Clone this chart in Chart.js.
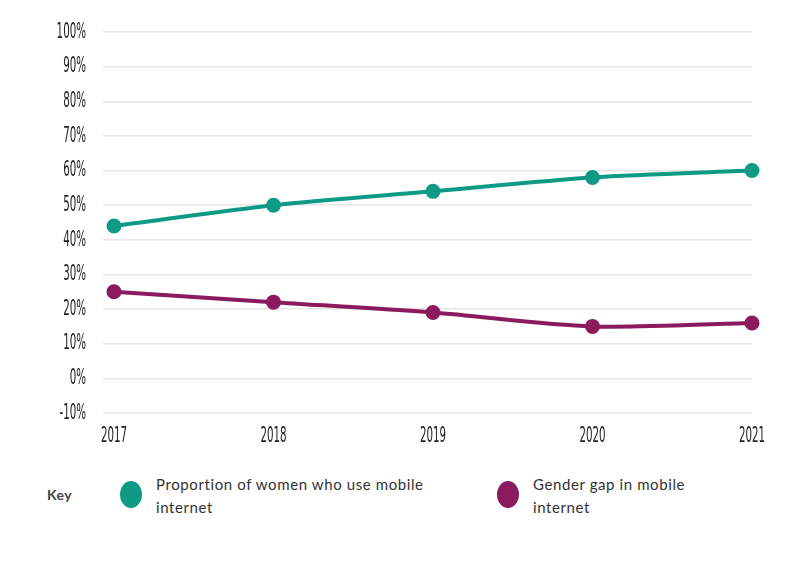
<!DOCTYPE html>
<html>
<head>
<meta charset="utf-8">
<script src="https://cdn.jsdelivr.net/npm/chart.js@4.4.1/dist/chart.umd.min.js"></script>
<style>
  html, body { margin: 0; padding: 0; background: #fff; }
  #wrap { position: relative; width: 790px; height: 574px; }
  #chartBox { position: absolute; left: 0; top: 0; width: 790px; height: 460px; }
  .key { position: absolute; font-family: Lato, "Open Sans", sans-serif; color: #333; }
  .key-title { left: 47px; top: 486px; font-size: 14px; font-weight: bold; color: #444; letter-spacing: 0.5px; }
  .dot { position: absolute; width: 22px; height: 27px; border-radius: 50%; top: 481px; }
  .key-text { top: 473px; font-size: 15px; line-height: 23px; letter-spacing: 0.6px; }
</style>
</head>
<body>
<div id="wrap">
  <div id="chartBox"><canvas id="lineChartGap"></canvas></div>
  <div class="key key-title">Key</div>
  <div class="dot" style="left:120px;background:#0f9a86"></div>
  <div class="key key-text" style="left:156px">Proportion of women who use mobile<br>internet</div>
  <div class="dot" style="left:497px;background:#8b1a5e"></div>
  <div class="key key-text" style="left:533px">Gender gap in mobile<br>internet</div>
</div>
<script>
const years = ['2017', '2018', '2019', '2020', '2021'];
const womenOnline = [44, 50, 54, 58, 60];
const genderGap = [25, 22, 19, 15, 16];
const yTicks = [-10, 0, 10, 20, 30, 40, 50, 60, 70, 80, 90, 100];

// label sempit ala font condensed: digambar sendiri dengan skala horizontal
const narrowLabels = {
    id: 'narrowLabels',
    afterDraw(chart) {
        const ctx = chart.ctx;
        const x = chart.scales.x;
        const y = chart.scales.y;
        ctx.save();
        ctx.fillStyle = '#222';
        ctx.font = '22px "Liberation Sans Narrow", "DejaVu Sans Condensed", sans-serif';
        ctx.textBaseline = 'middle';

        ctx.textAlign = 'right';
        y.ticks.forEach((t, i) => {
            ctx.save();
            ctx.translate(86, y.getPixelForTick(i));
            ctx.scale(0.52, 1);
            ctx.fillText(t.value + '%', 0, 0);
            ctx.restore();
        });

        ctx.textAlign = 'center';
        x.ticks.forEach((t, i) => {
            ctx.save();
            ctx.translate(x.getPixelForTick(i), chart.chartArea.bottom + 23);
            ctx.scale(0.52, 1);
            ctx.fillText(years[i], 0, 0);
            ctx.restore();
        });
        ctx.restore();
    }
};

const lineStyle = (color) => ({
    borderColor: color,
    backgroundColor: color,
    pointBackgroundColor: color,
    pointBorderColor: color,
    borderWidth: 4,
    pointRadius: 5.5,
    tension: 0.3,
    fill: false
});

new Chart(document.getElementById('lineChartGap'), {
    type: 'line',
    data: {
        labels: years,
        datasets: [
            { label: 'Proportion of women who use mobile internet', data: womenOnline, ...lineStyle('#0f9a86') },
            { label: 'Gender gap in mobile internet', data: genderGap, ...lineStyle('#8b1a5e') }
        ]
    },
    options: {
        responsive: true,
        maintainAspectRatio: false,
        animation: false,
        layout: { padding: { left: 103, right: 38, top: 32, bottom: 39 } },
        plugins: {
            legend: { display: false },
            tooltip: { enabled: false }
        },
        scales: {
            x: {
                grid: { display: false },
                border: { display: false },
                ticks: { display: false }
            },
            y: {
                min: -10,
                max: 100,
                afterBuildTicks: (axis) => { axis.ticks = yTicks.map(v => ({ value: v })); },
                grid: { color: '#e6e6e6', lineWidth: 1.5, tickLength: 11 },
                border: { display: false },
                ticks: { display: false }
            }
        }
    },
    plugins: [narrowLabels]
});
</script>
</body>
</html>
